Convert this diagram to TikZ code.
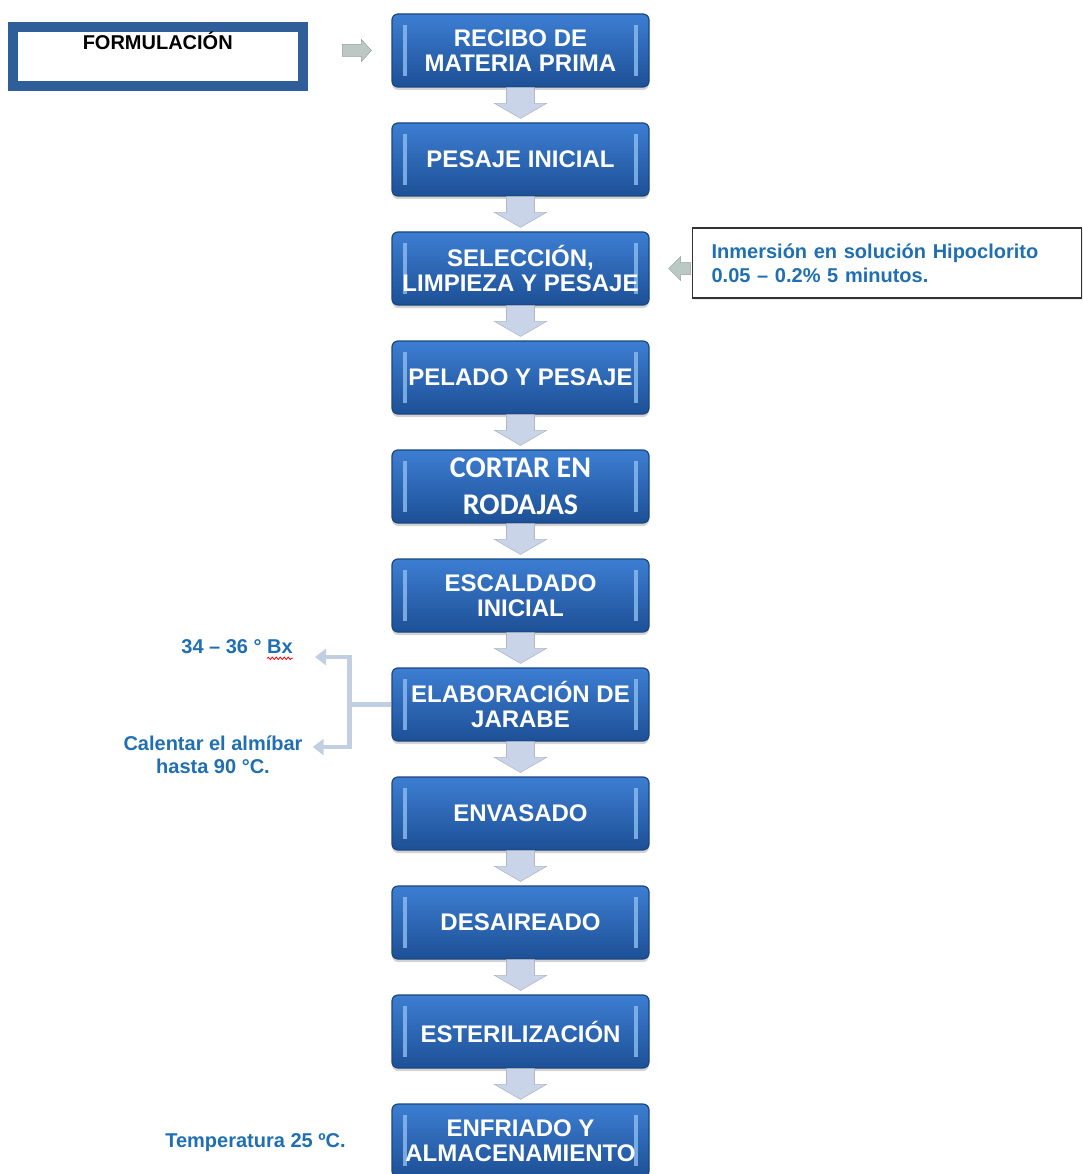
\documentclass[tikz,border=0pt]{standalone}
\usepackage{fontspec}
\setmainfont{Liberation Sans}
\newfontfamily\calibfont{Carlito}
\usetikzlibrary{shadows,decorations.pathmorphing,arrows.meta,calc}
\definecolor{boxtop}{HTML}{3D7ED2}
\definecolor{boxbot}{HTML}{1D5096}
\definecolor{boxedge}{HTML}{1B4680}
\definecolor{hl}{HTML}{8DBDF0}
\definecolor{formblue}{HTML}{2F5E98}
\definecolor{textblue}{HTML}{1F6FB2}
\definecolor{dnfill}{HTML}{C9D4E8}
\definecolor{dnedge}{HTML}{AEB8C8}
\definecolor{sidefill}{HTML}{BCC8C4}
\definecolor{syr}{HTML}{C2CFE2}
\tikzset{
  stepbox/.style={rounded corners=6pt, minimum width=257pt, minimum height=73pt,
    inner sep=0pt, top color=boxtop, bottom color=boxbot, draw=boxedge, line width=1.2pt,
    text=white, font=\bfseries\fontsize{24}{25}\selectfont, align=center,
    drop shadow={shadow xshift=0pt, shadow yshift=-3pt, opacity=0.35},
    path picture={
      \fill[hl, sharp corners, opacity=0.8] ([xshift=11pt,yshift=-11pt]path picture bounding box.north west) rectangle ([xshift=15pt,yshift=11pt]path picture bounding box.south west);
      \fill[hl, sharp corners, opacity=0.8] ([xshift=-11pt,yshift=-11pt]path picture bounding box.north east) rectangle ([xshift=-15pt,yshift=11pt]path picture bounding box.south east);}},
  formbox/.style={draw=formblue, line width=10pt, fill=white, minimum width=289.5pt,
    minimum height=59pt, inner sep=0pt, text height=17pt, text depth=31pt,
    font=\bfseries\fontsize{20}{24}\selectfont,
    drop shadow={shadow xshift=2pt, shadow yshift=-2pt, opacity=0.4}},
  hipobox/.style={draw=black!80, line width=1.2pt, fill=white, minimum height=70pt,
    text width=351pt, inner xsep=19pt, inner ysep=0pt, align=left, text=textblue,
    font=\bfseries\fontsize{20}{24}\selectfont,
    drop shadow={shadow xshift=1pt, shadow yshift=-2pt, opacity=0.15}},
  note/.style={inner sep=0pt, text=textblue, font=\bfseries\fontsize{20}{23}\selectfont},
  dnarrow/.style={fill=dnfill, draw=dnedge, line width=0.6pt},
  sidearrow/.style={fill=sidefill, draw=sidefill!80!black, line width=0.5pt},
  syrline/.style={draw=syr, line width=4.5pt},
}
\newcommand\flowdown[2]{%
  \filldraw[dnarrow] ([xshift=-14pt]#1.south) -- ([xshift=-14pt,yshift=19pt]#2.north)
    -- ([xshift=-26pt,yshift=19pt]#2.north) -- ([yshift=4pt]#2.north)
    -- ([xshift=26pt,yshift=19pt]#2.north) -- ([xshift=14pt,yshift=19pt]#2.north)
    -- ([xshift=14pt]#1.south) -- cycle;}
\begin{document}
\begin{tikzpicture}[x=1pt,y=-1pt]
\useasboundingbox (0,0) rectangle (1083,1174);
% main steps
\node[stepbox] (s1) at (520.5,50.5) {RECIBO DE\\MATERIA PRIMA};
\node[stepbox] (s2) at (520.5,159.5) {PESAJE INICIAL};
\node[stepbox] (s3) at (520.5,268.5) {SELECCIÓN,\\LIMPIEZA Y PESAJE};
\node[stepbox] (s4) at (520.5,377.5) {PELADO Y PESAJE};
\node[stepbox, font=\calibfont\bfseries\fontsize{30}{37}\selectfont] (s5) at (520.5,486.5) {CORTAR EN\\RODAJAS};
\node[stepbox] (s6) at (520.5,595.5) {ESCALDADO\\INICIAL};
\node[stepbox] (s7) at (520.5,704.5) {ELABORACIÓN DE\\JARABE};
\node[stepbox] (s8) at (520.5,813.5) {ENVASADO};
\node[stepbox] (s9) at (520.5,922.5) {DESAIREADO};
\node[stepbox] (s10) at (520.5,1031.5) {ESTERILIZACIÓN};
\node[stepbox] (s11) at (520.5,1140.5) {ENFRIADO Y\\ALMACENAMIENTO};
% down arrows
\flowdown{s1}{s2}
\flowdown{s2}{s3}
\flowdown{s3}{s4}
\flowdown{s4}{s5}
\flowdown{s5}{s6}
\flowdown{s6}{s7}
\flowdown{s7}{s8}
\flowdown{s8}{s9}
\flowdown{s9}{s10}
\flowdown{s10}{s11}
% formulacion
\node[formbox] (form) at (157.75,57) {FORMULACIÓN};
\filldraw[sidearrow] ([xshift=-49pt,yshift=6pt]s1.west) -- ([xshift=-30pt,yshift=6pt]s1.west)
  -- ([xshift=-30pt,yshift=11pt]s1.west) -- ([xshift=-20pt]s1.west)
  -- ([xshift=-30pt,yshift=-11pt]s1.west) -- ([xshift=-30pt,yshift=-6pt]s1.west)
  -- ([xshift=-49pt,yshift=-6pt]s1.west) -- cycle;
% hipoclorito
\node[hipobox, anchor=west] (hipo) at (692,263) {Inmersión en solución Hipoclorito\\0.05 – 0.2\% 5 minutos.};
\filldraw[sidearrow] ([xshift=41pt,yshift=6pt]s3.east) -- ([xshift=31pt,yshift=6pt]s3.east)
  -- ([xshift=31pt,yshift=12pt]s3.east) -- ([xshift=19pt]s3.east)
  -- ([xshift=31pt,yshift=-12pt]s3.east) -- ([xshift=31pt,yshift=-6pt]s3.east)
  -- ([xshift=41pt,yshift=-6pt]s3.east) -- cycle;
% syrup notes
\node[note, anchor=east] (bx) at (293,647) {34 – 36 ° Bx};
\draw[red, line width=0.8pt, decorate, decoration={snake, amplitude=1.2pt, segment length=4pt}]
  ([xshift=-26pt,yshift=-4pt]bx.south east) -- ([yshift=-4pt]bx.south east);
\node[note, align=center] (cal) at (213,754.5) {Calentar el almíbar\\hasta 90 °C.};
\draw[syrline] (s7.west) -- ++(-42,0) coordinate (jn);
\draw[syrline, -{Triangle[length=11pt,width=16pt]}] (jn) |- ([xshift=22pt,yshift=-10pt]bx.east);
\draw[syrline, -{Triangle[length=11pt,width=16pt]}] (jn) |- ([xshift=10pt,yshift=7.5pt]cal.east);
\node[note] (temp) at (255.5,1143) {Temperatura 25 ºC.};
\end{tikzpicture}
\end{document}
